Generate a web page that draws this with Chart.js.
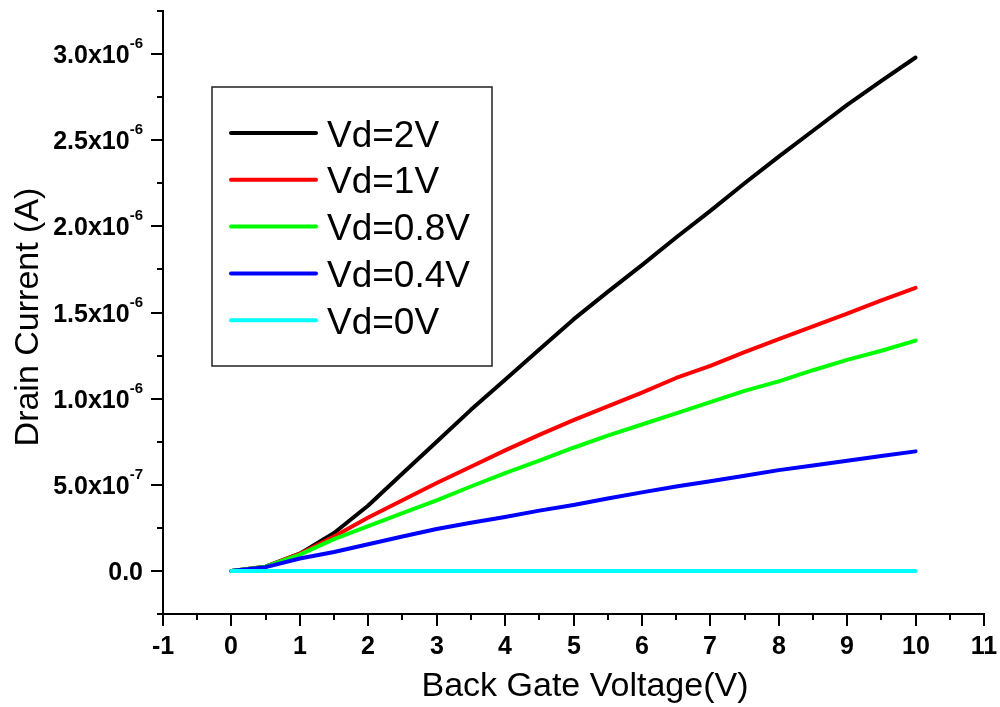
<!DOCTYPE html>
<html>
<head>
<meta charset="utf-8">
<script src="https://cdn.jsdelivr.net/npm/chart.js@4.4.1/dist/chart.umd.min.js"></script>
<style>
  html, body { margin: 0; padding: 0; background: #fff; }
  canvas { display: block; }
</style>
</head>
<body>
<canvas id="idvg" width="1000" height="707"></canvas>
<script>
// back gate voltage (V)
const gateVoltage = [0, 0.5, 1, 1.5, 2, 2.5, 3, 3.5, 4, 4.5, 5, 5.5, 6, 6.5, 7, 7.5, 8, 8.5, 9, 9.5, 10];

const vd2V  = [0, 0.025, 0.10, 0.22, 0.38, 0.565, 0.75, 0.935, 1.11, 1.285, 1.46, 1.62, 1.775, 1.935, 2.09, 2.25, 2.405, 2.555, 2.705, 2.845, 2.98];
const vd1V  = [0, 0.025, 0.10, 0.20, 0.31, 0.41, 0.51, 0.605, 0.70, 0.79, 0.875, 0.955, 1.035, 1.12, 1.19, 1.27, 1.345, 1.42, 1.494, 1.57, 1.643];
const vd08V = [0, 0.025, 0.095, 0.185, 0.26, 0.335, 0.41, 0.49, 0.568, 0.64, 0.715, 0.785, 0.85, 0.915, 0.98, 1.045, 1.10, 1.165, 1.225, 1.278, 1.337];
const vd04V = [0, 0.022, 0.072, 0.11, 0.155, 0.20, 0.243, 0.28, 0.313, 0.35, 0.383, 0.42, 0.456, 0.49, 0.521, 0.553, 0.585, 0.612, 0.64, 0.667, 0.694];
const vd0V  = [0, 0, 0, 0, 0, 0, 0, 0, 0, 0, 0, 0, 0, 0, 0, 0, 0, 0, 0, 0, 0];

const seriesLabels = ['Vd=2V', 'Vd=1V', 'Vd=0.8V', 'Vd=0.4V', 'Vd=0V'];
const seriesValues = [vd2V, vd1V, vd08V, vd04V, vd0V];
const seriesColors = ['#000000', '#ff0000', '#00ff00', '#0000ff', '#00ffff'];

const xTickValues = [-1, 0, 1, 2, 3, 4, 5, 6, 7, 8, 9, 10, 11];
const yTickValues = [0, 5e-7, 1e-6, 1.5e-6, 2e-6, 2.5e-6, 3e-6];
const yTickMantissa = ['0.0', '5.0x10', '1.0x10', '1.5x10', '2.0x10', '2.5x10', '3.0x10'];
const yTickExponent = ['', '-7', '-6', '-6', '-6', '-6', '-6'];

const FONT = '"Liberation Sans", Arial, Helvetica, sans-serif';

// ticks, tick labels, titles and the boxed legend, drawn like the original
const originStyle = {
  id: 'originStyle',
  afterDraw(chart) {
    const ctx = chart.ctx;
    const sx = chart.scales.x, sy = chart.scales.y;
    const area = chart.chartArea;
    ctx.save();
    ctx.strokeStyle = '#000';
    ctx.fillStyle = '#000';
    ctx.lineWidth = 2;

    // x ticks (major + half-step minor)
    xTickValues.forEach((v, i) => {
      const px = Math.round(sx.getPixelForValue(v));
      ctx.beginPath();
      ctx.moveTo(px, area.bottom);
      ctx.lineTo(px, area.bottom + 12);
      ctx.stroke();
      if (i < xTickValues.length - 1) {
        const mx = Math.round(sx.getPixelForValue((v + xTickValues[i + 1]) / 2));
        ctx.beginPath();
        ctx.moveTo(mx, area.bottom);
        ctx.lineTo(mx, area.bottom + 6);
        ctx.stroke();
      }
      ctx.font = 'bold 25px ' + FONT;
      ctx.textAlign = 'center';
      ctx.textBaseline = 'alphabetic';
      ctx.fillText(String(v), px, area.bottom + 40);
    });

    // y ticks
    const yMinor = [sy.min, ...yTickValues.map(v => v + 2.5e-7)];
    yMinor.forEach(v => {
      if (v > sy.max + 1e-12) return;
      const py = Math.round(sy.getPixelForValue(v));
      ctx.beginPath();
      ctx.moveTo(area.left, py);
      ctx.lineTo(area.left - 6, py);
      ctx.stroke();
    });
    yTickValues.forEach((v, i) => {
      const py = Math.round(sy.getPixelForValue(v));
      ctx.beginPath();
      ctx.moveTo(area.left, py);
      ctx.lineTo(area.left - 12, py);
      ctx.stroke();
      const right = area.left - 20;
      ctx.textAlign = 'right';
      ctx.textBaseline = 'alphabetic';
      ctx.font = 'bold 15px ' + FONT;
      const ew = yTickExponent[i] ? ctx.measureText(yTickExponent[i]).width : 0;
      if (ew) ctx.fillText(yTickExponent[i], right, py - 6);
      ctx.font = 'bold 25px ' + FONT;
      ctx.fillText(yTickMantissa[i], right - ew, py + 9);
    });

    // axis titles
    ctx.font = '34px ' + FONT;
    ctx.textAlign = 'center';
    ctx.fillText('Back Gate Voltage(V)', 585, 696);
    ctx.save();
    ctx.translate(38, 317);
    ctx.rotate(-Math.PI / 2);
    ctx.fillText('Drain Current (A)', 0, 0);
    ctx.restore();

    // legend box
    ctx.lineWidth = 1.5;
    ctx.strokeStyle = '#222';
    ctx.strokeRect(212, 87, 280, 279);
    ctx.lineWidth = 4;
    ctx.lineCap = 'round';
    ctx.font = '37px ' + FONT;
    ctx.textAlign = 'left';
    chart.data.datasets.forEach((ds, i) => {
      const ry = 133 + i * 46.8;
      ctx.strokeStyle = ds.borderColor;
      ctx.beginPath();
      ctx.moveTo(231, ry);
      ctx.lineTo(316, ry);
      ctx.stroke();
      ctx.fillStyle = '#000';
      ctx.fillText(ds.label, 327, ry + 13.5);
    });
    ctx.restore();
  }
};

new Chart(document.getElementById('idvg'), {
  type: 'line',
  data: {
    datasets: seriesLabels.map((label, i) => ({
      label: label,
      data: gateVoltage.map((v, j) => ({ x: v, y: seriesValues[i][j] * 1e-6 })),
      borderColor: seriesColors[i],
      backgroundColor: seriesColors[i],
      borderWidth: 4,
      borderCapStyle: 'round',
      borderJoinStyle: 'round',
      pointRadius: 0,
      tension: 0,
      fill: false,
      order: seriesLabels.length - 1 - i
    }))
  },
  options: {
    responsive: false,
    animation: false,
    devicePixelRatio: 1,
    layout: { padding: { top: 11, right: 16, bottom: 0, left: 0 } },
    plugins: {
      legend: { display: false },
      tooltip: { enabled: false }
    },
    scales: {
      x: {
        type: 'linear',
        min: -1,
        max: 11,
        grid: { display: false },
        ticks: { display: false },
        border: { display: true, color: '#000', width: 2 },
        afterFit: s => { s.height = 93; }
      },
      y: {
        type: 'linear',
        min: -2.5e-7,
        max: 3.25e-6,
        grid: { display: false },
        ticks: { display: false },
        border: { display: true, color: '#000', width: 2 },
        afterFit: s => { s.width = 163; }
      }
    }
  },
  plugins: [originStyle]
});
</script>
</body>
</html>
